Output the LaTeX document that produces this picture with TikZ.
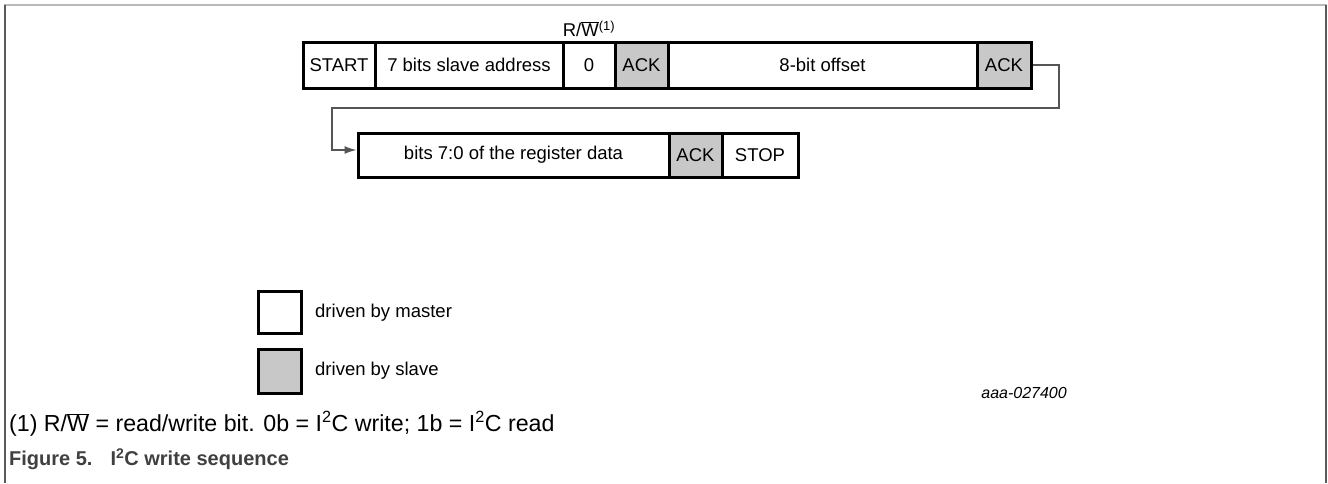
\documentclass[tikz,border=0pt]{standalone}
\usepackage{fontspec}
\setmainfont{Liberation Sans}
\usetikzlibrary{arrows.meta}
\definecolor{ackgray}{RGB}{200,200,200}
\definecolor{framedark}{RGB}{90,90,90}
\definecolor{framelight}{RGB}{185,185,185}
\definecolor{conngray}{RGB}{85,85,85}
\definecolor{capgray}{RGB}{64,64,64}
\newcommand{\txtsize}{\fontsize{18.5}{22}\selectfont}
\newcommand{\fnsize}{\fontsize{23.2}{27}\selectfont}
\newcommand{\capsize}{\fontsize{20}{24}\selectfont}
\newcommand{\rwbar}{R/$\overline{\hbox{W}}$}
\begin{document}
\begin{tikzpicture}[x=1pt,y=-1pt,
  cell/.style={draw=black, line width=3pt, minimum height=46pt, inner sep=0pt, font=\txtsize},
  slavecell/.style={cell, fill=ackgray},
  lbl/.style={inner sep=0pt, font=\txtsize},
  conn/.style={draw=conngray, line width=1.4pt, -{Latex[length=12pt,width=8pt]}},
]
\useasboundingbox (0,0) rectangle (1328,483);
% frame
\draw[framelight, line width=2pt] (4,5) -- (1327,5);
\draw[framedark, line width=2pt] (5,5) -- (5,483);
\draw[framedark, line width=2pt] (1326,5) -- (1326,483);

% row 1
\node[cell, minimum width=72pt] (start) at (339,65) {START};
\node[cell, minimum width=188pt] (addr) at (469,65) {7 bits slave address};
\node[cell, minimum width=52pt] (rwbit) at (589,65) {0};
\node[slavecell, minimum width=53pt] (ackA) at (641.5,65) {ACK};
\node[cell, minimum width=309pt] (offset) at (822.5,65) {8-bit offset};
\node[slavecell, minimum width=54pt] (ackB) at (1004,65) {ACK};

% R/W label
\node[lbl] (rwlabel) at (589,29) {\rwbar\textsuperscript{(1)}};

% row 2
\node[cell, minimum width=311pt, minimum height=44pt] (data) at (513.5,155) {bits 7:0 of the register data};
\node[slavecell, minimum width=53pt, minimum height=44pt] (ackC) at (695.5,155) {ACK};
\node[cell, minimum width=76pt, minimum height=44pt] (stop) at (760,155) {STOP};

% connector
\draw[conn] (ackB.east) -- (1059,65) -- (1059,108) -- (332,108) -- (332,150) -- ([yshift=5pt]data.west);

% legend
\node[cell, minimum width=43pt, minimum height=42pt] (legm) at (279.5,312) {};
\node[lbl, anchor=west] (legmt) at (315,313) {driven by master};
\node[slavecell, minimum width=43pt, minimum height=44pt] (legs) at (279.5,371) {};
\node[lbl, anchor=west] (legst) at (315,371) {driven by slave};

% id
\node[lbl, anchor=east, font=\fontsize{16}{19}\selectfont\itshape] (fid) at (1067,393) {aaa-027400};

% footnote and caption
\node[lbl, anchor=west, font=\fnsize] (fn) at (9,424) {(1) \rwbar{} = read/write bit. 0b = I\textsuperscript{2}C write; 1b = I\textsuperscript{2}C read};
\node[lbl, anchor=west, text=capgray, font=\capsize\bfseries] (cap) at (9,459) {Figure 5.\hspace{18pt}I\textsuperscript{2}C write sequence};
\end{tikzpicture}
\end{document}
